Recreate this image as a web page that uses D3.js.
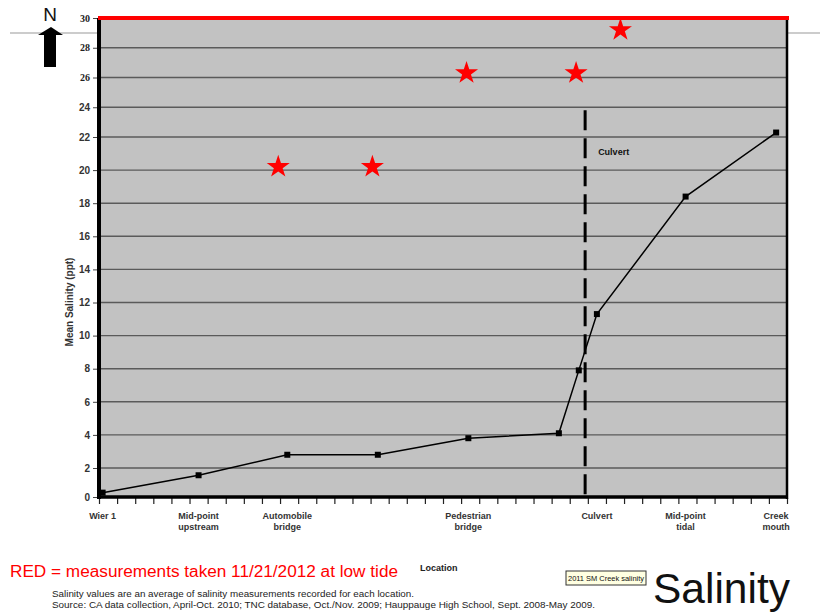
<!DOCTYPE html>
<html>
<head>
<meta charset="utf-8">
<script src="https://cdn.jsdelivr.net/npm/d3@7"></script>
<style>
  body { margin: 0; background: #fff; }
  svg { display: block; font-family: "Liberation Sans", Arial, sans-serif; }
</style>
</head>
<body>
<svg width="820" height="613"></svg>
<script>
// location along the creek (tick units) and mean salinity (ppt)
var locPos = [0.2, 5.5, 10.4, 15.4, 20.4, 25.4, 26.5, 27.5, 32.4, 37.4];
var salinity = [0.3, 1.5, 2.8, 2.8, 3.8, 4.1, 7.9, 11.3, 18.4, 22.3];

// x-axis labels
var labelPos = [0.2, 5.5, 10.4, 20.4, 27.5, 32.4, 37.4];
var labelText = [['Wier 1'], ['Mid-point', 'upstream'], ['Automobile', 'bridge'],
  ['Pedestrian', 'bridge'], ['Culvert'], ['Mid-point', 'tidal'], ['Creek', 'mouth']];

// red stars: measurements 11/21/2012
var starPos = [9.9, 15.1, 20.3, 26.35, 28.8];
var starVal = [20.2, 20.2, 26.3, 26.3, 29.2];

var yTicks = d3.range(0, 31, 2);
var culvertPos = 26.85;

var svg = d3.select('svg');

var x = d3.scaleLinear().domain([0, 38]).range([99, 787]);
// photo of the slide is slightly compressed near the top
var y = d3.scaleLinear().domain([0, 2, 22, 30]).range([497, 468, 137, 18]);

// slide guide line behind the chart
svg.append('line')
	.attr('x1', 10).attr('x2', 820).attr('y1', 33).attr('y2', 33)
	.attr('stroke', '#999').attr('stroke-width', 1);

// north arrow
svg.append('text').attr('x', 50).attr('y', 21).attr('text-anchor', 'middle')
	.attr('font-size', 19).attr('fill', '#111').text('N');
svg.append('path')
	.attr('d', 'M51,27 L63,35 L56,35 L56,67 L44,67 L44,35 L38,35 Z')
	.attr('fill', '#000');

// plot area
svg.append('rect')
	.attr('x', x(0)).attr('y', y(30))
	.attr('width', x(38) - x(0)).attr('height', y(0) - y(30))
	.attr('fill', '#c2c2c2');

// gridlines
svg.append('g').selectAll('line')
	.data(yTicks.filter(function(d) { return d > 0 && d < 30; }))
	.enter().append('line')
	.attr('x1', x(0)).attr('x2', x(38))
	.attr('y1', function(d) { return y(d); }).attr('y2', function(d) { return y(d); })
	.attr('stroke', '#5a5a5a').attr('stroke-width', 1.4);

// y axis
var yAxis = svg.append('g').attr('transform', 'translate(' + x(0) + ',0)')
	.call(d3.axisLeft(y).tickValues(yTicks).tickSize(6).tickPadding(3));
yAxis.select('.domain').remove();
yAxis.selectAll('text').attr('font-size', 10).attr('font-weight', 'bold')
	.attr('fill', '#333').attr('font-family', '"Liberation Sans", Arial, sans-serif');
yAxis.selectAll('.tick line').attr('stroke', '#444');
yAxis.selectAll('.tick').filter(function(d) { return d >= 26; }).select('text')
	.attr('font-family', '"Liberation Serif", "Times New Roman", serif').attr('fill', '#222');

// x axis minor ticks
var xAxis = svg.append('g').attr('transform', 'translate(0,' + (y(0) + 1) + ')')
	.call(d3.axisBottom(x).tickValues(d3.range(0, 39)).tickSize(6).tickFormat(''));
xAxis.select('.domain').remove();
xAxis.selectAll('.tick line').attr('stroke', '#222').attr('stroke-width', 1.2);

// frame
svg.append('line').attr('x1', x(0)).attr('x2', x(38)).attr('y1', y(0)).attr('y2', y(0))
	.attr('stroke', '#000').attr('stroke-width', 3.5);
svg.append('line').attr('x1', x(0)).attr('x2', x(0)).attr('y1', y(30)).attr('y2', y(0) + 2)
	.attr('stroke', '#000').attr('stroke-width', 4);
svg.append('line').attr('x1', x(38)).attr('x2', x(38)).attr('y1', y(30)).attr('y2', y(0) + 2)
	.attr('stroke', '#000').attr('stroke-width', 2.5);
svg.append('line').attr('x1', x(0) - 1).attr('x2', x(38) + 2).attr('y1', y(30)).attr('y2', y(30))
	.attr('stroke', '#ff0000').attr('stroke-width', 4);

// culvert dashed line
svg.append('line')
	.attr('x1', x(culvertPos)).attr('x2', x(culvertPos))
	.attr('y1', y(23.8)).attr('y2', y(0))
	.attr('stroke', '#000').attr('stroke-width', 3).attr('stroke-dasharray', '20,8');
svg.append('text').attr('x', x(culvertPos) + 13).attr('y', y(20.9))
	.attr('font-size', 9).attr('font-weight', 'bold').attr('fill', '#111').text('Culvert');

// salinity line and markers
var pts = locPos.map(function(d, i) { return [d, salinity[i]]; });
svg.append('path').datum(pts)
	.attr('d', d3.line().x(function(d) { return x(d[0]); }).y(function(d) { return y(d[1]); }))
	.attr('fill', 'none').attr('stroke', '#000').attr('stroke-width', 1.5);
svg.append('g').selectAll('rect').data(pts).enter().append('rect')
	.attr('x', function(d) { return x(d[0]) - 3; }).attr('y', function(d) { return y(d[1]) - 3; })
	.attr('width', 6).attr('height', 6).attr('fill', '#000');

// stars
svg.append('g').selectAll('path').data(starPos).enter().append('path')
	.attr('transform', function(d, i) { return 'translate(' + x(d) + ',' + y(starVal[i]) + ')'; })
	.attr('d', d3.symbol().type(d3.symbolStar).size(165))
	.attr('fill', '#ff0000');

// x labels
var xl = svg.append('g').selectAll('text').data(labelPos).enter().append('text')
	.attr('x', function(d) { return x(d); }).attr('y', 519)
	.attr('text-anchor', 'middle').attr('font-size', 9).attr('font-weight', 'bold').attr('fill', '#333');
xl.each(function(d, i) {
	var t = d3.select(this);
	labelText[i].forEach(function(s, j) {
		t.append('tspan').attr('x', x(d)).attr('dy', j === 0 ? 0 : 11).text(s);
	});
});

// y title
svg.append('text').attr('transform', 'translate(73,302) rotate(-90)')
	.attr('text-anchor', 'middle').attr('font-size', 10).attr('font-weight', 'bold')
	.attr('fill', '#333').text('Mean Salinity (ppt)');

// bottom texts
svg.append('text').attr('x', 10).attr('y', 577).attr('font-size', 16).attr('fill', '#ff0000')
	.attr('textLength', 388).attr('lengthAdjust', 'spacingAndGlyphs')
	.text('RED = measurements taken 11/21/2012 at low tide');
svg.append('text').attr('x', 420).attr('y', 571).attr('font-size', 9).attr('font-weight', 'bold')
	.attr('fill', '#222').text('Location');
svg.append('text').attr('x', 52).attr('y', 597).attr('font-size', 8.5).attr('fill', '#222')
	.attr('textLength', 362).attr('lengthAdjust', 'spacingAndGlyphs')
	.text('Salinity values are an average of salinity measurements recorded for each location.');
svg.append('text').attr('x', 52).attr('y', 608).attr('font-size', 8.5).attr('fill', '#222')
	.attr('textLength', 543).attr('lengthAdjust', 'spacingAndGlyphs')
	.text('Source: CA data collection, April-Oct. 2010; TNC database, Oct./Nov. 2009; Hauppauge High School, Sept. 2008-May 2009.');

svg.append('rect').attr('x', 566).attr('y', 571).attr('width', 80).attr('height', 14)
	.attr('fill', '#ffffe1').attr('stroke', '#333').attr('stroke-width', 1);
svg.append('text').attr('x', 568).attr('y', 581).attr('font-size', 8).attr('fill', '#111')
	.attr('textLength', 76).attr('lengthAdjust', 'spacingAndGlyphs').text('2011 SM Creek salinity');

svg.append('text').attr('x', 653).attr('y', 603).attr('font-size', 42).attr('fill', '#111')
	.attr('textLength', 137).attr('lengthAdjust', 'spacingAndGlyphs').text('Salinity');
</script>
</body>
</html>
